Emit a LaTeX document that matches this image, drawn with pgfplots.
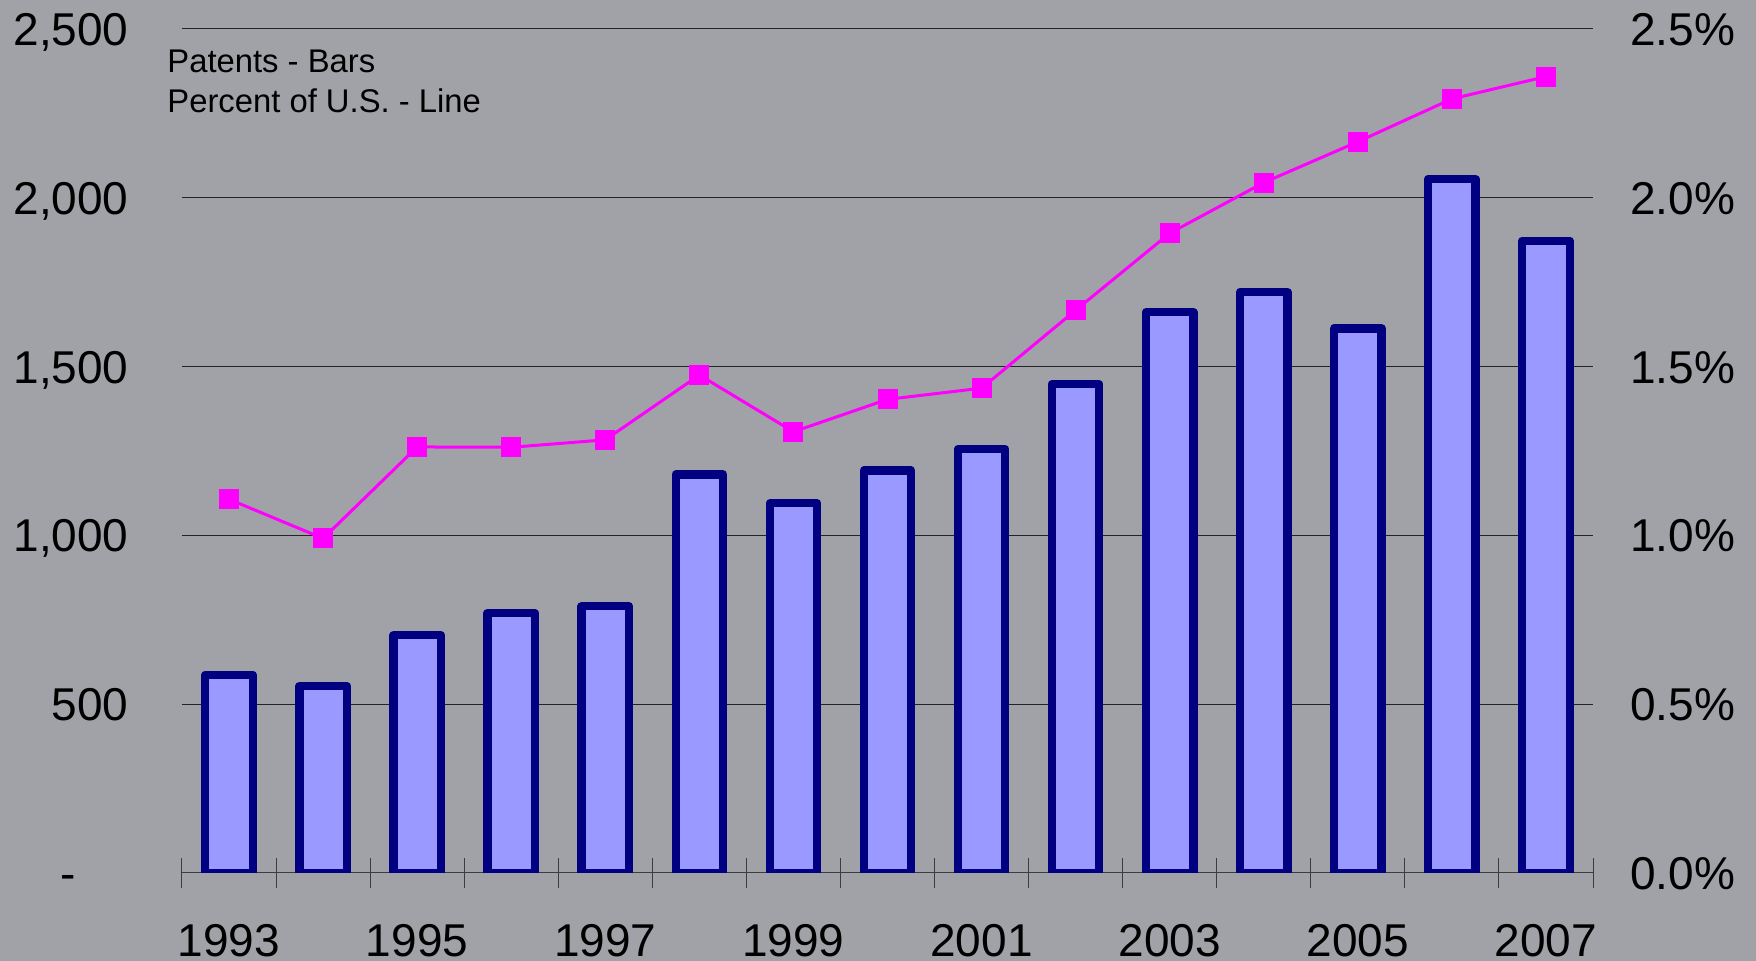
\documentclass[border=0pt]{standalone}
\usepackage{fontspec}
\setmainfont{Liberation Sans}
\usepackage{pgfplots}
\usepackage{pgfplotstable}
\pgfplotsset{compat=1.18}

\definecolor{bgGrey}{RGB}{161,161,168}
\definecolor{barFill}{RGB}{153,153,255}
\definecolor{barEdge}{RGB}{0,0,128}
\definecolor{lineMag}{RGB}{255,0,255}
\definecolor{gridDark}{RGB}{35,35,40}
\definecolor{axisDark}{RGB}{60,60,64}

% year index (0 = 1993), patents granted, share of U.S. total in percent
\pgfplotstableread{
idx patents share
0   587  1.107
1   554  0.991
2   704  1.262
3   770  1.261
4   790  1.283
5   1180 1.475
6   1095 1.307
7   1192 1.403
8   1256 1.436
9   1448 1.667
10  1661 1.895
11  1721 2.045
12  1613 2.166
13  2056 2.293
14  1873 2.359
}\patentdata

\newcommand{\tickfont}{\fontsize{23}{27}\selectfont}

\begin{document}
\begin{tikzpicture}[x=1pt,y=1pt]
% page background
\fill[bgGrey] (-91,-44) rectangle (787,436.5);

% patents (bars), left axis
\begin{axis}[
  at={(0,0)}, anchor=south west,
  scale only axis, width=705.5pt, height=422pt,
  xmin=-0.5, xmax=14.5, ymin=0, ymax=2500,
  axis x line*=bottom, axis y line*=left,
  x axis line style={draw=axisDark, line width=0.5pt, -},
  y axis line style={draw=none},
  xtick={-0.5,0.5,...,14.5},
  xticklabels={1993,,1995,,1997,,1999,,2001,,2003,,2005,,2007,,},
  tick align=center, major tick length=15pt,
  xtick style={draw=axisDark, line width=0.5pt},
  xticklabel style={anchor=north, inner sep=0pt, yshift=-18pt, xshift=23.5pt, font=\tickfont},
  ytick={0,500,...,2500},
  yticklabels={-\hspace*{26.5pt},500,{1,000},{1,500},{2,000},{2,500}},
  ytick style={draw=none},
  yticklabel style={anchor=base east, inner sep=0pt, xshift=-19pt, yshift=-8.25pt, font=\tickfont},
  ymajorgrids,
  major grid style={draw=gridDark, line width=0.5pt},
]
\addplot[ybar, bar width=23.7pt, fill=barFill, draw=barEdge,
         line width=4.15pt, line join=round]
  table[x=idx, y=patents]{\patentdata};
\end{axis}

% percent of U.S. (line), right axis
\begin{axis}[
  at={(0,0)}, anchor=south west,
  scale only axis, width=705.5pt, height=422pt,
  xmin=-0.5, xmax=14.5, ymin=0, ymax=2.5,
  axis x line=none, axis y line*=right,
  y axis line style={draw=none},
  ytick={0,0.5,...,2.5},
  yticklabels={0.0\%,0.5\%,1.0\%,1.5\%,2.0\%,2.5\%},
  ytick style={draw=none},
  yticklabel style={anchor=base west, inner sep=0pt, xshift=18.5pt, yshift=-8.25pt, font=\tickfont},
]
\addplot[lineMag, line width=1.5pt, mark=square*, mark size=4.25pt,
         mark options={solid, fill=lineMag, draw=none}]
  table[x=idx, y=share]{\patentdata};
\end{axis}

% series key
\node[anchor=base west, inner sep=0pt, font=\fontsize{16.4}{19}\selectfont] at (-7.5,400) {Patents - Bars};
\node[anchor=base west, inner sep=0pt, font=\fontsize{16.4}{19}\selectfont] at (-7.5,380) {Percent of U.S. - Line};
\end{tikzpicture}
\end{document}
